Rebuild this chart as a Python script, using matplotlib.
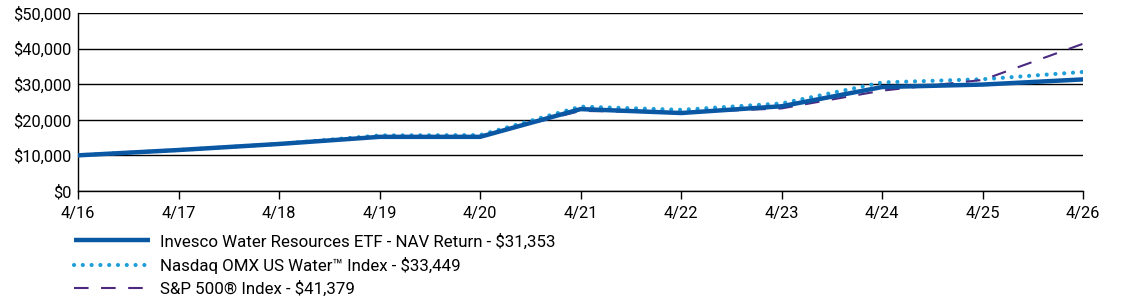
import matplotlib
matplotlib.use("Agg")
import matplotlib.pyplot as plt
from matplotlib.ticker import FuncFormatter

plt.rcParams["font.family"] = ["Roboto", "DejaVu Sans"]
plt.rcParams["font.size"] = 11

# data
years = ["4/16", "4/17", "4/18", "4/19", "4/20", "4/21", "4/22", "4/23", "4/24", "4/25", "4/26"]
etf = [10000, 11500, 13200, 15200, 15200, 23000, 21900, 23800, 29200, 29900, 31353]
nasdaq = [10000, 11500, 13200, 15600, 15700, 23700, 22800, 24600, 30500, 31400, 33449]
sp500 = [10000, 11500, 13200, 15200, 15300, 22500, 22000, 23200, 28200, 31200, 41379]
labels = [
    "Invesco Water Resources ETF - NAV Return - $31,353",
    "Nasdaq OMX US Water\u2122 Index - $33,449",
    "S&P 500\u00ae Index - $41,379",
]

x = list(range(len(years)))

fig = plt.figure(figsize=(11.23, 3.04), dpi=100)
ax = fig.add_axes([0.0695, 0.372, 0.895, 0.585])

ax.plot(x, nasdaq, color="#1f9fd9", linewidth=3.0, linestyle=(0, (0.01, 2.1)),
        dash_capstyle="round", label=labels[1], zorder=3)
ax.plot(x, sp500, color="#4a2a80", linewidth=1.5, linestyle=(0, (7, 6)), label=labels[2], zorder=4)
ax.plot(x, etf, color="#0a57a4", linewidth=3.2, solid_capstyle="butt", label=labels[0], zorder=5)

ax.set_xlim(0, 10)
ax.set_ylim(0, 50000)
ax.set_xticks(x, years)
ax.set_yticks(range(0, 50001, 10000))
ax.yaxis.set_major_formatter(FuncFormatter(lambda v, p: f"${v:,.0f}"))
ax.tick_params(axis="y", length=0, pad=5, labelsize=11.8)
ax.tick_params(axis="x", length=6, width=1, direction="out", pad=5, labelsize=11.8)
ax.grid(axis="y", color="black", linewidth=1)
ax.set_axisbelow(True)
for s in ["top", "right"]:
    ax.spines[s].set_visible(False)
for s in ["left", "bottom"]:
    ax.spines[s].set_color("black")
    ax.spines[s].set_linewidth(1)

# legend in the reference order
handles, labs = ax.get_legend_handles_labels()
order = [labs.index(l) for l in labels]
fig.legend([handles[i] for i in order], [labs[i] for i in order],
           loc="upper left", bbox_to_anchor=(0.0597, 0.255), frameon=False,
           handlelength=4.5, handletextpad=0.6, labelspacing=0.42, fontsize=12.2,
           borderaxespad=0)

fig.savefig("out.png", dpi=100)
